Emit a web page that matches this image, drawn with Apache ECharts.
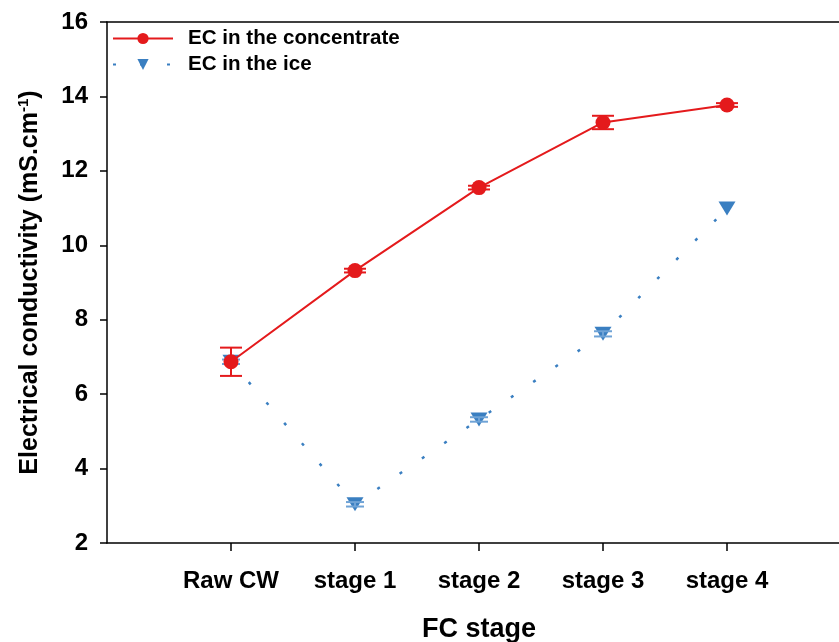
<!DOCTYPE html>
<html><head><meta charset="utf-8">
<script src="https://cdn.jsdelivr.net/npm/echarts@6/dist/echarts.min.js"></script>
<style>html,body{margin:0;padding:0;background:#fff}#c{width:839px;height:642px}</style>
</head><body><div id="c"></div>
<script>
var categories = ['Raw CW', 'stage 1', 'stage 2', 'stage 3', 'stage 4'];
var concValues = [6.87, 9.32, 11.55, 13.30, 13.77];
var concErrors = [0.38, 0.05, 0.05, 0.18, 0.05];
var iceValues = [6.87, 3.04, 5.32, 7.62, 10.99];
var iceErrors = [0.06, 0.06, 0.06, 0.07, 0.0];
var yTicks = [2, 4, 6, 8, 10, 12, 14, 16];

var RED = '#e41a1c', BLUE = '#3a7fc1';
var FONT = 'Liberation Sans, Arial, sans-serif';
var xCats = [''].concat(categories).concat([' ']);
function pairs(vals){ return vals.map(function(v,i){ return [i+1, v]; }); }
function errData(vals, errs){ return vals.map(function(v,i){ return [i+1, v-errs[i], v+errs[i]]; }); }
function errSeries(vals, errs, color, cap){
  return {
    type: 'custom', z: 3, silent: true,
    data: errData(vals, errs),
    renderItem: function(params, api){
      if (api.value(2) - api.value(1) <= 0) return null;
      var lo = api.coord([api.value(0), api.value(1)]);
      var hi = api.coord([api.value(0), api.value(2)]);
      var st = {stroke: color, lineWidth: 2};
      return {type:'group', children:[
        {type:'line', shape:{x1:lo[0],y1:lo[1],x2:hi[0],y2:hi[1]}, style:st},
        {type:'line', shape:{x1:lo[0]-cap,y1:lo[1],x2:lo[0]+cap,y2:lo[1]}, style:st},
        {type:'line', shape:{x1:hi[0]-cap,y1:hi[1],x2:hi[0]+cap,y2:hi[1]}, style:st}
      ]};
    }
  };
}
var chart = echarts.init(document.getElementById('c'), null, {renderer:'canvas'});
chart.setOption({
  animation: false,
  textStyle: {fontFamily: FONT},
  grid: {left: 107, top: 22, width: 744, height: 521, show: false, containLabel: false, outerBoundsMode: 'none'},
  legend: {
    left: 107, top: 23, orient: 'vertical', itemWidth: 60, itemHeight: 14, itemGap: 5,
    textStyle: {fontSize: 20.6, fontWeight: 'bold', color: '#000', fontFamily: FONT, padding: [0,0,0,10]},
    data: ['EC in the concentrate', 'EC in the ice']
  },
  xAxis: [{
    type: 'category', data: xCats, boundaryGap: false,
    axisLine: {lineStyle: {color: '#000', width: 1.5}},
    axisTick: {length: 8, lineStyle: {color: '#000', width: 1.5}, interval: function(i){ return i > 0 && i < xCats.length-1; }},
    axisLabel: {interval: 0, margin: 26, fontSize: 24, fontWeight: 'bold', color: '#000'},
    splitLine: {show: false},
    name: 'FC stage', nameLocation: 'middle', nameGap: 73,
    nameTextStyle: {fontSize: 27, fontWeight: 'bold', color: '#000'}
  }, {
    type: 'category', data: xCats, boundaryGap: false, position: 'top',
    axisLine: {show: true, lineStyle: {color: '#000', width: 1.5}},
    axisTick: {show: false}, axisLabel: {show: false}, splitLine: {show: false}
  }],
  yAxis: {
    type: 'value', min: yTicks[0], max: yTicks[yTicks.length-1], interval: 2,
    axisLine: {show: true, lineStyle: {color: '#000', width: 1.5}},
    axisTick: {show: true, length: 7, lineStyle: {color: '#000', width: 1.5}},
    axisLabel: {margin: 19, fontSize: 24, fontWeight: 'bold', color: '#000'},
    splitLine: {show: false},
    name: '{a|Electrical conductivity (mS.cm}{s|-1}{a|)}', nameLocation: 'middle', nameGap: 62,
    nameTextStyle: {
      rich: {
        a: {fontSize: 25, fontWeight: 'bold', color: '#000', fontFamily: FONT, lineHeight: 29},
        s: {fontSize: 15, fontWeight: 'bold', color: '#000', fontFamily: FONT, verticalAlign: 'top', lineHeight: 29, padding: [0,0,12,0]}
      }
    }
  },
  series: [
    {
      name: 'EC in the ice', type: 'line', data: pairs(iceValues), z: 2,
      symbol: 'triangle', symbolRotate: 180, symbolSize: [17, 14],
      lineStyle: {color: BLUE, width: 2.5, type: [3, 24]},
      itemStyle: {color: BLUE}
    },
    errSeries(iceValues, iceErrors, '#6fa3d6', 9),
    {
      name: 'EC in the concentrate', type: 'line', data: pairs(concValues), z: 4,
      symbol: 'circle', symbolSize: 15,
      lineStyle: {color: RED, width: 2},
      itemStyle: {color: RED}
    },
    errSeries(concValues, concErrors, RED, 11)
  ]
});
</script></body></html>
